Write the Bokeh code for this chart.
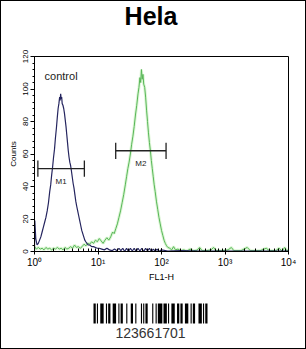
import numpy as np
from bokeh.plotting import figure
from bokeh.models import Label, Range1d, SingleIntervalTicker, LogTicker
from bokeh.layouts import column
from bokeh.embed import file_html
from bokeh.resources import INLINE
from bokeh.core.properties import value

# ---------------- data ----------------
title_text = "Hela"
x_label = "FL1-H"
y_label = "Counts"
x_tick_values = [1, 10, 100, 1000, 10000]
x_tick_labels = ["10\u2070", "10\u00b9", "10\u00b2", "10\u00b3", "10\u2074"]
control_text = "control"

# control histogram (dark blue): log10(FL1-H) positions and counts
control_log = [0.000, 0.005, 0.020, 0.040, 0.060, 0.080, 0.100, 0.120, 0.140, 0.160,
               0.180, 0.200, 0.220, 0.240, 0.255, 0.270, 0.285, 0.300, 0.315, 0.330,
               0.345, 0.360, 0.372, 0.384, 0.396, 0.404, 0.412, 0.420, 0.428, 0.436,
               0.448, 0.460, 0.472, 0.484, 0.496, 0.508, 0.520, 0.532, 0.544, 0.556,
               0.568, 0.580, 0.594, 0.608, 0.622, 0.636, 0.650, 0.664, 0.680, 0.696,
               0.712, 0.728, 0.744, 0.760, 0.776, 0.792, 0.808, 0.826, 0.846, 0.870,
               0.900, 0.930, 0.960, 0.990, 1.020, 1.060, 1.100, 1.140, 1.180, 1.220,
               1.260, 1.300, 1.330, 1.360, 1.390, 1.420, 1.450, 1.480, 1.510, 1.540,
               1.570, 1.600, 1.630, 1.660, 1.690, 1.720, 1.750, 1.780, 1.810, 1.840,
               1.870, 1.900, 1.930, 1.960, 2.000, 2.100, 2.300, 2.600, 3.000, 3.400,
               3.800, 4.000]
control_counts = [0, 19, 8, 4, 5, 7, 9, 12, 15, 18,
                  21, 25, 30, 37, 41, 47, 52, 58, 63, 70,
                  76, 83, 88, 91, 95, 93, 97, 94, 95, 91,
                  90, 88, 85, 81, 77, 72, 67, 62, 58, 55,
                  53, 50, 46, 42, 39, 35, 31, 28, 25, 22,
                  19, 16, 13, 11, 9, 7, 6, 5, 4, 4,
                  3, 3, 2.5, 2, 2, 1.5, 1, 2, 1, 0.5,
                  1.5, 0.5, 2, 0.5, 2, 0, 2, 0, 2, 0.3,
                  2, 0, 2, 0.3, 2, 0, 2, 0.3, 2, 0,
                  1.5, 0.3, 1.5, 0, 1, 0.3, 0.5, 0.2, 0.3, 0.2,
                  0.3, 0.2]

# sample histogram (green)
sample_log = [0.000, 0.030, 0.060, 0.090, 0.120, 0.150, 0.180, 0.210, 0.240, 0.270,
              0.300, 0.330, 0.360, 0.390, 0.420, 0.450, 0.480, 0.510, 0.540, 0.570,
              0.600, 0.630, 0.660, 0.690, 0.720, 0.750, 0.780, 0.810, 0.840, 0.870,
              0.900, 0.930, 0.960, 0.990, 1.020, 1.050, 1.080, 1.110, 1.140, 1.170,
              1.200, 1.230, 1.255, 1.280, 1.305, 1.330, 1.355, 1.380, 1.405, 1.430,
              1.450, 1.470, 1.490, 1.510, 1.530, 1.550, 1.570, 1.590, 1.610, 1.630,
              1.645, 1.660, 1.672, 1.684, 1.696, 1.708, 1.720, 1.735, 1.750, 1.765,
              1.780, 1.795, 1.810, 1.825, 1.840, 1.855, 1.870, 1.885, 1.900, 1.920,
              1.940, 1.960, 1.980, 2.000, 2.020, 2.040, 2.060, 2.080, 2.100, 2.130,
              2.160, 2.190, 2.220, 2.260, 2.300, 2.350, 2.400, 2.450, 2.500, 2.560,
              2.600, 2.640, 2.700, 2.780, 2.820, 2.860, 2.950, 3.050, 3.100, 3.140,
              3.250, 3.350, 3.400, 3.550, 3.650, 3.700, 3.800, 3.850, 3.900, 3.940,
              3.970, 4.000]
sample_counts = [3, 1.5, 2.5, 1.5, 2, 1, 2.5, 1.5, 2, 1,
                 2, 1.5, 2.5, 1.5, 2, 1, 2.5, 1.5, 2, 3,
                 2, 4, 2.5, 3, 2, 3, 4.5, 3.5, 5, 4.5,
                 6, 5, 7, 6, 8, 6.5, 5, 7, 8.5, 7,
                 9, 12, 11, 14, 17, 21, 25, 30, 35, 41,
                 46, 51, 55, 60, 66, 71, 77, 84, 90, 97,
                 101, 107, 104, 112, 106, 109, 103, 101, 95, 87,
                 80, 73, 67, 62, 56, 51, 46, 41, 37, 31,
                 26, 21, 17, 13, 10, 7, 5, 3.5, 2.5, 2,
                 1, 3, 1, 1.5, 0.5, 1, 0.3, 1.5, 0.5, 0.8,
                 2.5, 0.5, 0.5, 1, 2.5, 0.5, 0.5, 1, 2.5, 0.5,
                 0.5, 2.5, 0.5, 0.5, 2, 0.5, 0.5, 2, 0.3, 2.5,
                 0.5, 1]

# marker gates
gate_names = ["M1", "M2"]
gate_low = [1.13, 19.0]
gate_high = [6.1, 118.0]
gate_level = [51, 62]

# barcode (Code 128 symbol patterns) and its number
barcode_symbols = ["211232", "112232", "112313", "221411", "112412",
                   "114131", "123221", "223211", "2331112"]
barcode_number = "123661701"

FONT = "Liberation Sans"
BL, BR = 33, 17          # common left/right borders -> frame x 34..288
FRAME_W = 304 - BL - BR  # 254 px

def bare(height):
    f = figure(width=304, height=height, output_backend="svg", toolbar_location=None,
               x_axis_location=None, y_axis_location=None,
               x_range=Range1d(0, FRAME_W), y_range=Range1d(0, height),
               min_border_left=BL, min_border_right=BR,
               min_border_top=0, min_border_bottom=0)
    f.grid.visible = False
    f.outline_line_color = None
    f.background_fill_color = "white"
    f.border_fill_color = "white"
    return f

# ---------------- title strip ----------------
TH = 45
t = bare(TH)
t.text(x=[116.5], y=[TH - 14.3], text=[title_text], text_font=value(FONT),
       text_font_size="25px", text_font_style="bold", text_align="center",
       text_baseline="middle", text_color="black")

# ---------------- main chart ----------------
p = figure(width=304, height=288 - TH, x_axis_type="log",
           x_range=Range1d(1, 10000), y_range=Range1d(0, 120),
           output_backend="svg", toolbar_location=None,
           min_border_left=BL, min_border_right=BR,
           min_border_top=10, min_border_bottom=38)
p.grid.visible = False
p.outline_line_color = "black"
p.outline_line_width = 1
p.background_fill_color = "white"
p.border_fill_color = "white"

sx = 10 ** np.array(sample_log)
cx = 10 ** np.array(control_log)
p.line(sx, sample_counts, line_color="#ddf6d6", line_width=3)
p.line(sx, sample_counts, line_color="#58b658", line_width=1)
p.line(cx, control_counts, line_color="#25255f", line_width=1.2)

gl = np.array(gate_level, dtype=float)
p.segment(x0=gate_low, y0=gate_level, x1=gate_high, y1=gate_level,
          line_color="#222222", line_width=1.3)
p.segment(x0=gate_low, y0=gl - 5, x1=gate_low, y1=gl + 5,
          line_color="#222222", line_width=1.3)
p.segment(x0=gate_high, y0=gl - 5, x1=gate_high, y1=gl + 5,
          line_color="#222222", line_width=1.3)
gx = np.sqrt(np.array(gate_low) * np.array(gate_high))
p.text(x=gx, y=gl - 8, text=gate_names, text_font=value(FONT),
       text_font_size="8px", text_align="center", text_baseline="middle",
       text_color="#222222")

p.add_layout(Label(x=1.44, y=108, text=control_text, text_font=FONT,
                   text_font_size="11px", text_baseline="middle",
                   text_color="#222222"))

xa = p.xaxis[0]
xa.ticker = LogTicker(num_minor_ticks=10)
xa.major_label_overrides = {v: t_ for v, t_ in zip(x_tick_values, x_tick_labels)}
xa.axis_label = x_label
xa.axis_label_text_font = FONT
xa.axis_label_text_font_style = "normal"
xa.axis_label_text_font_size = "9px"
xa.axis_label_standoff = 1
xa.major_label_text_font = FONT
xa.major_label_text_font_size = "10px"
xa.major_label_standoff = 2
xa.major_tick_in = 3
xa.major_tick_out = 3
xa.minor_tick_in = 3
xa.minor_tick_out = 0

ya = p.yaxis[0]
ya.ticker = SingleIntervalTicker(interval=20, num_minor_ticks=5)
ya.axis_label = y_label
ya.axis_label_text_font = FONT
ya.axis_label_text_font_style = "normal"
ya.axis_label_text_font_size = "8px"
ya.axis_label_standoff = 2
ya.major_label_text_font = FONT
ya.major_label_text_font_size = "8px"
ya.major_label_orientation = "vertical"
ya.major_label_standoff = 3
ya.major_tick_in = 0
ya.major_tick_out = 4
ya.minor_tick_in = 0
ya.minor_tick_out = 2
for ax in (xa, ya):
    ax.axis_line_color = "black"
    ax.major_tick_line_color = "black"
    ax.minor_tick_line_color = "black"
    ax.major_label_text_color = "black"
    ax.axis_label_text_color = "black"

# ---------------- barcode ----------------
lefts, rights = [], []
pos = 0
for sym in barcode_symbols:
    for i, ch in enumerate(sym):
        w = int(ch)
        if i % 2 == 0:
            lefts.append(pos)
            rights.append(pos + w)
        pos += w
total = pos

BH = 59
b = figure(width=304, height=BH, output_backend="svg", toolbar_location=None,
           x_axis_location=None, y_axis_location=None,
           x_range=Range1d(-(93 - 34) * total / 114.0, (288 - 93) * total / 114.0),
           y_range=Range1d(0, BH),
           min_border_left=BL, min_border_right=BR,
           min_border_top=0, min_border_bottom=0)
b.grid.visible = False
b.outline_line_color = None
b.quad(left=lefts, right=rights, bottom=BH - 34, top=BH - 14,
       fill_color="black", line_color=None)
b.text(x=[total / 2.0], y=[BH - 43], text=[barcode_number], text_font=value(FONT),
       text_font_size="14px", text_align="center", text_baseline="middle",
       text_color="#333333")

layout = column(t, p, b, spacing=0, styles={"border": "1px solid black"})
open("out.html", "w").write(file_html(layout, INLINE))
